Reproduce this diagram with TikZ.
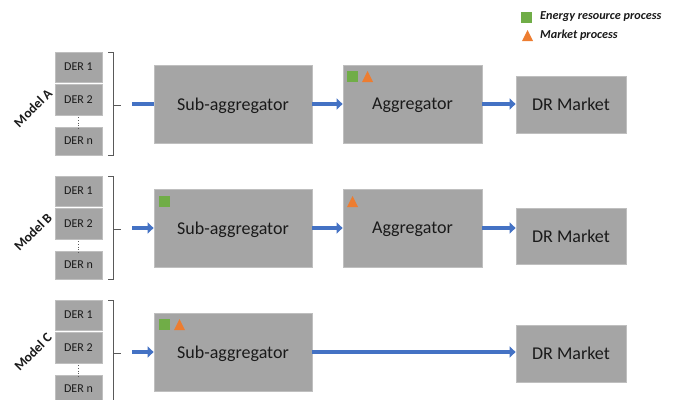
\documentclass[tikz,border=0pt]{standalone}
\usepackage{fontspec}
\setmainfont{Carlito}
\usetikzlibrary{arrows.meta}
\definecolor{boxfill}{HTML}{A5A5A5}
\definecolor{boxline}{HTML}{BFBFBF}
\definecolor{flowblue}{HTML}{4472C4}
\definecolor{resgreen}{HTML}{70AD47}
\definecolor{mktorange}{HTML}{ED7D31}
\definecolor{txt}{HTML}{1A1A1A}
\definecolor{brace}{HTML}{595959}

\begin{document}
\begin{tikzpicture}[x=1pt,y=-1pt,
  stage/.style={draw=boxline, line width=0.8pt, fill=boxfill, text=txt,
    font=\fontsize{18}{20}\selectfont, inner sep=0pt, text depth=0pt},
  derbox/.style={draw=boxline, line width=0.8pt, fill=boxfill, text=txt,
    font=\fontsize{12}{14}\selectfont, minimum width=47pt, inner sep=0pt},
  flow/.style={draw=flowblue, line width=4.5pt, -{Triangle[length=6pt,width=11pt]}},
  feed/.style={draw=flowblue, line width=4.5pt},
  bracket/.style={draw=brace, line width=0.7pt},
  modellabel/.style={font=\bfseries\fontsize{13.5}{15}\selectfont, rotate=45, text=txt, inner sep=0pt},
  legendtext/.style={font=\bfseries\itshape\fontsize{12.2}{14}\selectfont, text=txt, anchor=west, inner sep=0pt},
  res/.pic={\fill[resgreen] (-5.5,-5.5) rectangle (5.5,5.5);},
  mkt/.pic={\fill[mktorange] (-5.5,5.5) -- (0,-5.5) -- (5.5,5.5) -- cycle;}
]
\useasboundingbox (0,0) rectangle (676,399);
\clip (0,0) rectangle (676,399);

% legend
\pic at (526,17) {res};
\node[legendtext] (legres) at (540,17) {Energy resource process};
\pic at (527.5,35.5) {mkt};
\node[legendtext] (legmkt) at (540,35.5) {Market process};

% DER columns, brackets and model labels
\foreach \m/\off/\ly in {A/0/108, B/124/232, C/248/352} {
  \node[derbox, minimum height=30pt] (der\m1) at (78.5,67+\off) {DER 1};
  \node[derbox, minimum height=31pt] (der\m2) at (78.5,99.5+\off) {DER 2};
  \node[derbox, minimum height=28pt] (der\m n) at (78.5,141+\off) {DER n};
  \draw[brace, dotted, line width=0.6pt] (der\m2.south) ++(0,2) -- ([yshift=-2pt]der\m n.north);
  \coordinate (top\m) at (108,52+\off);
  \coordinate (bot\m) at (108,155+\off);
  \coordinate (tick\m) at (121,105+\off);
  \draw[bracket] (top\m) -- ++(5,0) -- ([xshift=5pt]bot\m) -- (bot\m);
  \draw[bracket] ([xshift=-8pt]tick\m) -- (tick\m);
  \coordinate (in\m) at (132,104+\off);
  \node[modellabel] (label\m) at (33,\ly) {Model \m};
}

% Model A
\node[stage, minimum width=158pt, minimum height=78pt] (subA) at (233,104) {Sub-aggregator};
\node[stage, minimum width=139pt, minimum height=78pt] (aggA) at (412.5,104) {Aggregator};
\node[stage, minimum width=110pt, minimum height=57pt] (drA) at (571,104.5) {DR Market};
\pic at (352.5,76.5) {res};
\pic at (367.5,76.5) {mkt};
\draw[feed] (inA) -- (subA.west |- inA);
\draw[flow] (subA.east |- inA) -- (aggA.west |- inA);
\draw[flow] (aggA.east |- inA) -- (drA.west |- inA);

% Model B
\node[stage, minimum width=158pt, minimum height=78pt] (subB) at (233,228) {Sub-aggregator};
\node[stage, minimum width=139pt, minimum height=78pt] (aggB) at (412.5,228) {Aggregator};
\node[stage, minimum width=110pt, minimum height=56pt] (drB) at (571,236) {DR Market};
\pic at (164.5,201.5) {res};
\pic at (352.5,201.5) {mkt};
\draw[flow] (inB) -- (subB.west |- inB);
\draw[flow] (subB.east |- inB) -- (aggB.west |- inB);
\draw[flow] (aggB.east |- inB) -- (drB.west |- inB);

% Model C
\node[stage, minimum width=158pt, minimum height=78pt] (subC) at (233,352) {Sub-aggregator};
\node[stage, minimum width=110pt, minimum height=57pt] (drC) at (571,353.5) {DR Market};
\pic at (164.5,324.5) {res};
\pic at (179.5,324.5) {mkt};
\draw[flow] (inC) -- (subC.west |- inC);
\draw[flow] (subC.east |- inC) -- (drC.west |- inC);
\end{tikzpicture}
\end{document}
